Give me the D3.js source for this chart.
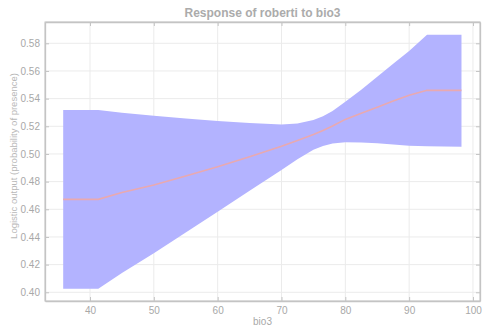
<!DOCTYPE html>
<html>
<head>
<meta charset="utf-8">
<script src="https://cdn.jsdelivr.net/npm/d3@7"></script>
<style>
  html, body { margin: 0; padding: 0; background: #fff; }
  svg { display: block; font-family: "Liberation Sans", Arial, Helvetica, sans-serif; }
</style>
</head>
<body>
<svg id="chart" width="488" height="331"></svg>
<script>
// ---- data ----
const bio3  = [35.8, 41.3, 45, 50, 55, 60, 65, 70, 72.5, 75, 76.5, 78, 80, 82.5, 85, 87.5, 90, 92.8, 98.2];
const upper = [0.5318, 0.5318, 0.5298, 0.5276, 0.5256, 0.5238, 0.5224, 0.5213, 0.5220, 0.5245, 0.5272, 0.5310, 0.5378, 0.5465, 0.5558, 0.5652, 0.5745, 0.5862, 0.5862];
const mean  = [0.4672, 0.4672, 0.4722, 0.4776, 0.4840, 0.4908, 0.4980, 0.5055, 0.5098, 0.5140, 0.5170, 0.5202, 0.5250, 0.5295, 0.5338, 0.5382, 0.5425, 0.5460, 0.5460];
const lower = [0.4026, 0.4026, 0.4140, 0.4282, 0.4432, 0.4583, 0.4734, 0.4884, 0.4962, 0.5030, 0.5058, 0.5076, 0.5084, 0.5082, 0.5077, 0.5069, 0.5060, 0.5055, 0.5053];
const xTicks = [40, 50, 60, 70, 80, 90, 100];
const yTicks = [0.40, 0.42, 0.44, 0.46, 0.48, 0.50, 0.52, 0.54, 0.56, 0.58];
const title = "Response of roberti to bio3";
const xLabel = "bio3";
const yLabel = "Logistic output (probability of presence)";

// ---- layout ----
const svg = d3.select("#chart");
const L = 45, R = 480, T = 22, B = 301;
const x = d3.scaleLinear().domain([32.95, 101.1]).range([L, R]);
const y = d3.scaleLinear().domain([0.3937, 0.5954]).range([B, T]);

const rows = bio3.map((v, i) => ({x: v, lo: lower[i], hi: upper[i], m: mean[i]}));

// grid
svg.append("g").selectAll("line").data(xTicks).join("line")
  .attr("x1", d => x(d)).attr("x2", d => x(d)).attr("y1", T).attr("y2", B)
  .attr("stroke", "#ebebeb").attr("stroke-width", 1);
svg.append("g").selectAll("line").data(yTicks).join("line")
  .attr("y1", d => y(d)).attr("y2", d => y(d)).attr("x1", L).attr("x2", R)
  .attr("stroke", "#ebebeb").attr("stroke-width", 1);

// band
svg.append("path").datum(rows)
  .attr("fill", "#b3b3ff")
  .attr("d", d3.area().x(d => x(d.x)).y0(d => y(d.lo)).y1(d => y(d.hi)));

// mean line
svg.append("path").datum(rows)
  .attr("fill", "none").attr("stroke", "#e9a9b0").attr("stroke-width", 1.6)
  .attr("d", d3.line().x(d => x(d.x)).y(d => y(d.m)));

// frame
svg.append("rect").attr("x", L).attr("y", T).attr("width", R - L).attr("height", B - T)
  .attr("fill", "none").attr("stroke", "#c4c4c4").attr("stroke-width", 1);

// axes (inward ticks)
const fmt = d3.format(".2f");
const ax = svg.append("g").attr("transform", `translate(0,${B})`)
  .call(d3.axisBottom(x).tickValues(xTicks).tickSizeInner(-4).tickSizeOuter(0).tickPadding(6));
const ay = svg.append("g").attr("transform", `translate(${L},0)`)
  .call(d3.axisLeft(y).tickValues(yTicks).tickFormat(fmt).tickSizeInner(-4).tickSizeOuter(0).tickPadding(5));
const at = svg.append("g").attr("transform", `translate(0,${T})`)
  .call(d3.axisTop(x).tickValues(xTicks).tickSizeInner(-4).tickSizeOuter(0).tickFormat(""));
const ar = svg.append("g").attr("transform", `translate(${R},0)`)
  .call(d3.axisRight(y).tickValues(yTicks).tickSizeInner(-4).tickSizeOuter(0).tickFormat(""));
[ax, ay, at, ar].forEach(g => {
  g.select(".domain").attr("stroke", "#c4c4c4").attr("stroke-width", 1.3);
  g.selectAll(".tick line").attr("stroke", "#c4c4c4");
  g.selectAll(".tick text").attr("fill", "#a8a8a8").attr("font-size", 10)
    .attr("font-family", "'Liberation Sans', Arial, sans-serif");
});

// titles
svg.append("text").attr("x", (L + R) / 2).attr("y", 17).attr("text-anchor", "middle")
  .attr("font-size", 12).attr("font-weight", "bold").attr("fill", "#ababab").text(title);
svg.append("text").attr("x", (L + R) / 2).attr("y", 325).attr("text-anchor", "middle")
  .attr("font-size", 10).attr("fill", "#a8a8a8").text(xLabel);
svg.append("text").attr("transform", `translate(17,156) rotate(-90)`)
  .attr("text-anchor", "middle").attr("font-size", 9.5).attr("fill", "#b8b8b8").text(yLabel);
</script>
</body>
</html>
